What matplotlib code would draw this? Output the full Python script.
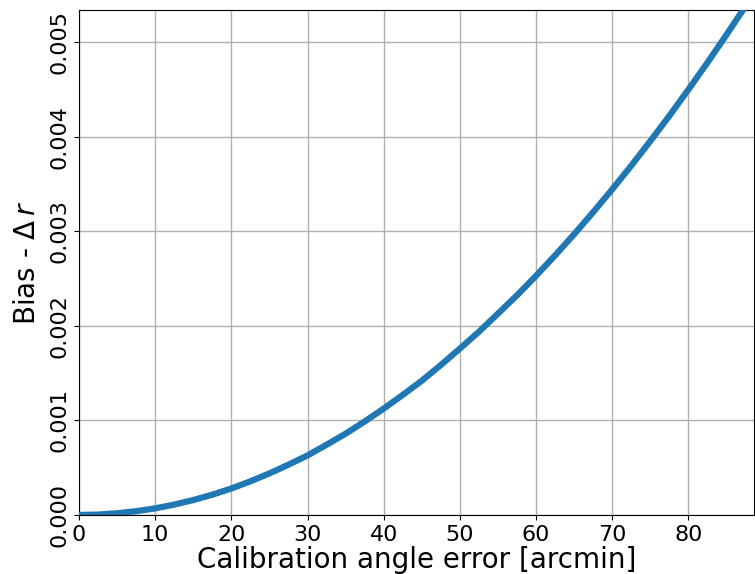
import matplotlib
matplotlib.use('Agg')
import matplotlib.pyplot as plt
import numpy as np

# angle error [arcmin] vs bias on r
angle_err = [0, 2.5, 5, 7.5, 10, 12.5, 15, 17.5, 20, 22.5, 25, 27.5, 30, 32.5,
             35, 37.5, 40, 42.5, 45, 47.5, 50, 52.5, 55, 57.5, 60, 62.5, 65,
             67.5, 70, 72.5, 75, 77.5, 80, 82.5, 85, 87.5, 90]
bias_r = [0.0, 0.0000044, 0.000018, 0.00004, 0.00007, 0.00011, 0.000158,
          0.000215, 0.00028, 0.000356, 0.00044, 0.000532, 0.00063, 0.000743,
          0.00086, 0.000989, 0.001125, 0.00127, 0.00142, 0.001586, 0.00176,
          0.001938, 0.00213, 0.002324, 0.00253, 0.002746, 0.00297, 0.003203,
          0.003445, 0.003695, 0.003955, 0.004222, 0.0045, 0.004785, 0.00508,
          0.005382, 0.00569]

x_ticks = [0, 10, 20, 30, 40, 50, 60, 70, 80]
y_ticks = [0.0, 0.001, 0.002, 0.003, 0.004, 0.005]

fig = plt.figure(figsize=(7.55, 5.74), dpi=100)
ax = fig.add_axes([0.1046, 0.1028, 0.8941, 0.8798])

ax.plot(angle_err, bias_r, color='#1f77b4', lw=4.5, zorder=3,
        solid_joinstyle='round')

ax.set_xlim(0, 88.6)
ax.set_ylim(0, 0.00534)
ax.set_xticks(x_ticks)
ax.set_yticks(y_ticks)
ax.set_yticklabels(['%.3f' % v for v in y_ticks], rotation=90, va='center')
ax.tick_params(labelsize=16)
ax.grid(True, color='#b0b0b0', lw=1)

ax.set_xlabel('Calibration angle error [arcmin]', fontsize=20, labelpad=1)
ax.set_ylabel(r'Bias - $\Delta\,r$', fontsize=20, labelpad=6)

fig.savefig('out.png', dpi=100)
